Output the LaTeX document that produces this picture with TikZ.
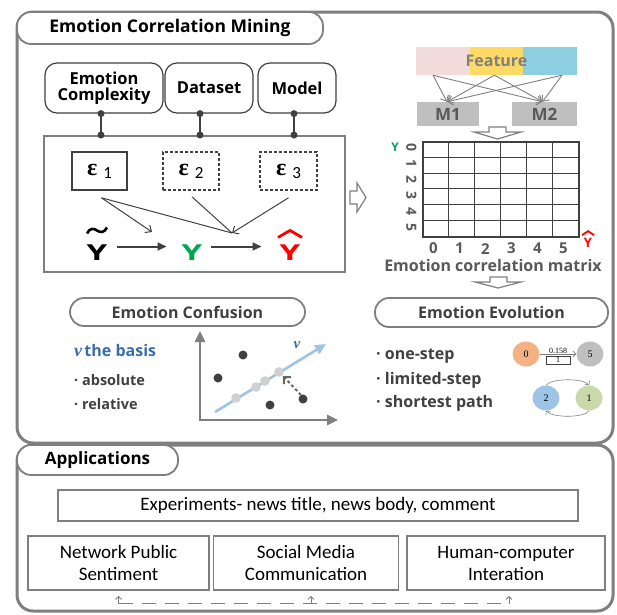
\documentclass[tikz,border=0pt]{standalone}
\usepackage{fontspec}
\setmainfont{Carlito}
\newfontfamily\osans{Open Sans}
\newfontfamily\lserif{Liberation Serif}
\usetikzlibrary{arrows.meta,calc,shapes.geometric}
\definecolor{bord}{HTML}{7F7F7F}
\definecolor{dk}{HTML}{404040}
\definecolor{mid}{HTML}{595959}
\definecolor{fpink}{HTML}{F2DCDB}
\definecolor{fyel}{HTML}{FFD966}
\definecolor{fblue}{HTML}{8DCFE0}
\definecolor{mgray}{HTML}{BFBFBF}
\definecolor{vblue}{HTML}{3A6DAE}
\definecolor{lblue}{HTML}{9DC3E6}
\definecolor{ygreen}{HTML}{00A651}
\definecolor{yred}{HTML}{FF0000}
\definecolor{norange}{HTML}{F4B183}
\definecolor{ngreen}{HTML}{C9D9A9}
\definecolor{nblue}{HTML}{9DC3E6}
\definecolor{ngray}{HTML}{BFBFBF}
\definecolor{lgdot}{HTML}{D0D0D0}
\newcommand\HdF[1]{\osans\bfseries\fontsize{#1}{#1}\selectfont}
\newcommand\RgF[1]{\osans\fontsize{#1}{#1}\selectfont}
\newcommand\ApF{\fontsize{19}{22}\selectfont}
\newcommand\SeF[1]{\lserif\fontsize{#1}{#1}\selectfont}
\newcommand\EpsLab[1]{{\SeF{24}\bfseries ε}\hspace{6pt}\raisebox{-3pt}{\fontsize{17}{17}\selectfont #1}}
\newcommand\WideY{\scalebox{1.5}[1]{Y}}
\begin{document}
\begin{tikzpicture}[x=1pt,y=-1pt,
  outerbox/.style={draw=bord,line width=3pt,rounded corners=16pt},
  pill/.style={draw=bord,line width=1.8pt,rounded corners=14pt,fill=white,inner sep=0pt},
  topbox/.style={draw=dk,line width=1.2pt,rounded corners=12pt,fill=white,align=center,inner sep=0pt,font=\HdF{16.5}},
  bigbox/.style={draw=bord,line width=2pt},
  epsbox/.style={draw=dk,line width=1.6pt,minimum height=38pt,inner sep=0pt},
  epsdash/.style={epsbox,dash pattern=on 3pt off 2pt},
  conn/.style={draw=dk,line width=2pt},
  cdot/.style={fill=dk},
  bigy/.style={inner sep=0pt,font=\HdF{22}},
  yarr/.style={draw=dk,line width=2pt,-{Triangle[length=9pt,width=8pt]}},
  thinl/.style={draw=dk,line width=1pt},
  barb/.style={-{Straight Barb[length=5pt,width=9pt]}},
  feat/.style={minimum height=28pt,minimum width=54pt,inner sep=0pt},
  mbox/.style={fill=mgray,minimum height=24pt,inner sep=0pt,font=\HdF{17},text=mid},
  fline/.style={draw=bord,line width=0.9pt,-{Straight Barb[length=5pt,width=9pt]}},
  blk/.style={draw=bord,line width=1.2pt,fill=white},
  axis/.style={draw=bord,line width=2.5pt,-{Triangle[length=11pt,width=10pt]}},
  ddot/.style={fill=dk},
  gdot/.style={fill=lgdot},
  evo/.style={draw=bord,line width=0.6pt,-{Straight Barb[length=3pt,width=6pt]}},
  enode/.style={ellipse,minimum width=27pt,minimum height=25pt,inner sep=0pt,font=\SeF{10}},
  appbox/.style={draw=bord,line width=1.5pt,align=center,inner sep=0pt,font=\ApF},
  apparr/.style={draw=bord,line width=1pt,-{Straight Barb[length=3pt,width=6pt]}}
]
\useasboundingbox (0,0) rectangle (617,614);

% outer frames
\draw[outerbox] (17,12) rectangle (613,443);
\draw[outerbox] (17,445) rectangle (613,611);

\node[pill,minimum width=306pt,minimum height=32pt,font=\HdF{17.5}] (t1) at (170,28) {Emotion Correlation Mining};
\node[pill,minimum width=161pt,minimum height=30pt,font=\HdF{17}] (t2) at (97.5,460) {Applications};

% top boxes
\node[topbox,minimum width=118pt,minimum height=50pt] (ec) at (104,88) {Emotion\\[-1pt]Complexity};
\node[topbox,minimum width=88pt,minimum height=50pt] (ds) at (209,88) {Dataset};
\node[topbox,minimum width=78pt,minimum height=50pt] (md) at (297,88) {Model};

\node[bigbox,minimum width=301pt,minimum height=136pt] (bb) at (194.5,204) {};

\foreach \n/\d in {ec/-3,ds/-9,md/-3}{
  \draw[conn] ([xshift=\d pt]\n.south) -- ([xshift=\d pt]\n.south |- bb.north);
  \fill[cdot] ([xshift=\d pt]\n.south) circle (3.5pt);
  \fill[cdot] ([xshift=\d pt]\n.south |- bb.north) circle (3.5pt);
}

% epsilon boxes
\node[epsbox,minimum width=55pt] (e1) at (99.5,171) {\EpsLab{1}};
\node[epsdash,minimum width=56pt] (e2) at (191,171) {\EpsLab{2}};
\node[epsdash,minimum width=57pt] (e3) at (288.5,171) {\EpsLab{3}};

% Y nodes
\node[bigy] (yt) at (97,252.5) {\WideY};
\node[bigy,text=ygreen] (yg) at (192,252.5) {\WideY};
\node[bigy,text=yred] (yh) at (290,252.5) {\WideY};
\draw[line width=2.6pt] ([shift={(-10,-11)}]yt.north) .. controls ([shift={(-7,-17)}]yt.north) and ([shift={(-3,-16)}]yt.north) .. ([shift={(0,-14)}]yt.north) .. controls ([shift={(3,-12)}]yt.north) and ([shift={(7,-11)}]yt.north) .. ([shift={(10,-17)}]yt.north);
\draw[yred,line width=2.8pt] ([shift={(-12,-7)}]yh.north) -- ([shift={(0,-14)}]yh.north) -- ([shift={(12,-7)}]yh.north);

\draw[yarr] ([shift={(10,-6)}]yt.east) -- ([shift={(-15,-6)}]yg.west);
\draw[yarr] ([shift={(8,-6)}]yg.east) -- ([shift={(-18,-6)}]yh.west);

\coordinate (m1) at (152,232);
\coordinate (m2) at (232,233);
\draw[thinl,barb] ([shift={(2,7)}]e1.south) -- (m1);
\draw[thinl] ([shift={(2,7)}]e1.south) -- (m2);
\draw[thinl] ([shift={(1,6)}]e2.south) -- (m2);
\draw[thinl,barb] ([shift={(0,7)}]e3.south) -- (m2);

% right block arrow
\draw[blk] (350,191) -- (357,191) -- (357,183) -- (366,197.5) -- (357,212) -- (357,204) -- (350,204) -- cycle;

% feature bar
\node[feat,fill=fpink] (fp) at (443,61) {};
\node[feat,fill=fyel,minimum width=53pt] (fy) at (496.5,61) {};
\node[feat,fill=fblue] (fb) at (550,61) {};
\node[inner sep=0pt,font=\HdF{16},text=bord] (ft) at (fy.center) {Feature};

\node[mbox,minimum width=62pt] (m1b) at (448,114) {M1};
\node[mbox,minimum width=65pt] (m2b) at (544.5,114) {M2};
\foreach \s/\d in {fp/-10,fy/-2,fb/12}{
  \draw[fline] ([xshift=\d pt]\s.south) -- ([xshift=-1pt]m1b.north);
  \draw[fline] ([xshift=\d pt]\s.south) -- ([xshift=-2pt]m2b.north);
}
\draw[blk] (489,127) -- (506,127) -- (506,132) -- (521,132) -- (497.5,139) -- (474,132) -- (489,132) -- cycle;

% matrix
\node[draw=dk,line width=1.2pt,minimum width=156pt,minimum height=95pt,inner sep=0pt] (mat) at (501,189.5) {};
\foreach \i in {1,...,5}{
  \draw[dk,line width=1.1pt] ($(mat.north west)+(26*\i,0)$) -- ($(mat.south west)+(26*\i,0)$);
  \draw[dk,line width=1.1pt] ($(mat.north west)+(0,95*\i/6)$) -- ($(mat.north east)+(0,95*\i/6)$);
}
\foreach \i in {0,...,5}{
  \node[rotate=-90,inner sep=0pt,font=\RgF{14}\bfseries,text=mid] at ($(mat.north west)+(-11,95*\i/6+6.5)$) {\i};
  \node[inner sep=0pt,font=\RgF{15}\bfseries,text=mid] at ($(mat.south west)+(26*\i+11,11)$) {\i};
}
\node[inner sep=0pt,font=\HdF{12},text=ygreen] (myg) at (395,147) {Y};
\node[inner sep=0pt,font=\HdF{13},text=yred] (myh) at (588,243) {Y};
\draw[yred,line width=1.8pt] ([shift={(-6,-3)}]myh.north) -- ([shift={(0,-7)}]myh.north) -- ([shift={(6,-3)}]myh.north);
\node[inner sep=0pt,font=\HdF{16},text=mid] (mlab) at (493,265) {Emotion correlation matrix};
\draw[blk] (490,277) -- (507,277) -- (507,282) -- (521,282) -- (498,288) -- (475,282) -- (490,282) -- cycle;

% Emotion confusion
\node[pill,minimum width=235pt,minimum height=28pt,font=\HdF{16},text=dk] (cf) at (187.5,312) {Emotion Confusion};
\node[anchor=west,inner sep=0pt,text=vblue] (vb) at (74,350) {{\SeF{18}\bfseries\itshape v} {\HdF{16}the basis}};
\node[anchor=west,inner sep=0pt,font=\HdF{14.5},text=dk] (ab) at (74,380) {· absolute};
\node[anchor=west,inner sep=0pt,font=\HdF{14.5},text=dk] (rl) at (74,404) {· relative};

\coordinate (org) at (200,420);
\coordinate (ytop) at (200,331);
\coordinate (xend) at (338,420);
\draw[axis] (org) -- (ytop);
\draw[axis] ([xshift=-1.25pt]org) -- (xend);
\coordinate (vs) at (215,412);
\coordinate (ve) at (326,344);
\draw[lblue,line width=2.6pt,-{Triangle[length=11pt,width=10pt]}] (vs) -- (ve);
\node[inner sep=0pt,text=vblue,font=\SeF{15}\bfseries\itshape] (vl) at (297,345) {v};
\foreach \p in {(236,398),(256,387),(265,381),(279,372)} \fill[gdot] \p circle (4.8pt);
\foreach \p in {(243,355),(218,378),(270,405),(303,399)} \fill[ddot] \p circle (4.5pt);
\coordinate (dsrc) at (301,395);
\coordinate (dtgt) at (283,376);
\draw[dk!80,line width=2pt,dash pattern=on 3pt off 2.5pt,-{Straight Barb[length=5pt,width=10pt]}] (dsrc) -- (dtgt);

% Emotion evolution
\node[pill,minimum width=233pt,minimum height=29pt,font=\HdF{16},text=dk] (ev) at (491.5,312.5) {Emotion Evolution};
\node[anchor=west,inner sep=0pt,font=\HdF{16},text=dk] (b1) at (376,356) {· one-step};
\node[anchor=west,inner sep=0pt,font=\HdF{16},text=dk] (b2) at (376,380) {· limited-step};
\node[anchor=west,inner sep=0pt,font=\HdF{16},text=dk] (b3) at (376,403) {· shortest path};

\node[enode,fill=norange] (n0) at (526,354) {0};
\node[enode,fill=ngray] (n5) at (590,354) {5};
\node[enode,fill=nblue] (n2) at (546,398) {2};
\node[enode,fill=ngreen] (n1) at (589,398) {1};
\draw[evo] (n0) -- node[above=0.5pt,inner sep=0pt,font=\SeF{8}] (w) {0.158} node[below=2pt,draw=dk,line width=0.5pt,inner sep=0pt,minimum width=24pt,minimum height=8pt,font=\SeF{8}] (wb) {1} (n5);
\draw[evo] (n2.north) .. controls (551,378) and (584,378) .. (n1.north);
\draw[evo] (n1.south) .. controls (585,418) and (552,418) .. (n2.south);

% applications
\node[appbox,minimum width=520pt,minimum height=31pt] (ex) at (318,505.5) {Experiments- news title, news body, comment};
\node[appbox,minimum width=181pt,minimum height=54pt] (np) at (118.5,563) {Network Public\\Sentiment};
\node[appbox,minimum width=185pt,minimum height=54pt] (sm) at (306,563) {Social Media\\Communication};
\node[appbox,minimum width=198pt,minimum height=54pt] (hc) at (506,563) {Human-computer\\Interation};
\draw[bord,line width=1.2pt,dash pattern=on 14pt off 9pt] ([yshift=-13pt]np.south) -- ([shift={(3,-13pt)}]hc.south);
\draw[apparr] ([yshift=-13pt]np.south) -- ([yshift=-5pt]np.south);
\draw[apparr] ([shift={(5,-13pt)}]sm.south) -- ([shift={(5,-5pt)}]sm.south);
\draw[apparr] ([shift={(3,-13pt)}]hc.south) -- ([shift={(3,-5pt)}]hc.south);
\end{tikzpicture}
\end{document}
